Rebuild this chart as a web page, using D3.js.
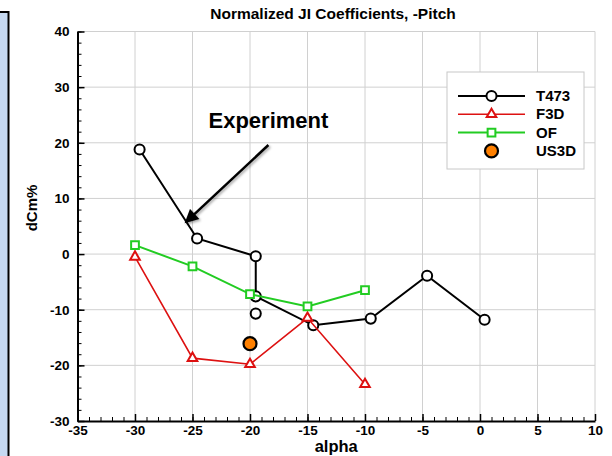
<!DOCTYPE html>
<html lang="en">
<head>
    <meta charset="UTF-8">
    <title>Normalized JI Coefficients, -Pitch</title>
    <script src="https://d3js.org/d3.v7.min.js"></script>
    <style>
        body { margin: 0; background: #fff; }
        text { font-family: "Liberation Sans", Arial, Helvetica, sans-serif; }
    </style>
</head>
<body>
    <svg id="chart" width="612" height="456"></svg>

    <script>
        // Values
        const xTicks = [-35, -30, -25, -20, -15, -10, -5, 0, 5, 10];
        const yTicks = [-30, -20, -10, 0, 10, 20, 30, 40];

        const t473Alpha = [-29.6, -24.6, -19.5, -19.5, -14.5, -9.5, -4.6, 0.4];
        const t473Cm = [18.8, 2.8, -0.4, -7.6, -12.8, -11.6, -3.9, -11.8];
        // extra T473 point drawn without a connecting line
        const t473ExtraAlpha = [-19.5];
        const t473ExtraCm = [-10.7];

        const f3dAlpha = [-30, -25, -20, -15, -10];
        const f3dCm = [-0.5, -18.7, -19.8, -11.5, -23.4];

        const ofAlpha = [-30, -25, -20, -15, -10];
        const ofCm = [1.6, -2.2, -7.2, -9.4, -6.5];

        const us3dAlpha = [-20];
        const us3dCm = [-16.1];

        const legendNames = ["T473", "F3D", "OF", "US3D"];

        // annotation: text position and arrow start/end in data units
        const noteText = "Experiment";
        const notePos = [-18.4, 22.7];
        const arrowFrom = [-18.4, 19.6];
        const arrowTo = [-25.6, 5.7];

        const height = 456;
        const svg = d3.select("#chart");

        const x = d3.scaleLinear().domain([-35, 10]).range([77.5, 595]);
        const y = d3.scaleLinear().domain([-30, 40]).range([421, 31.5]);

        const zip = (a, b) => a.map((v, i) => ({ x: v, y: b[i] }));

        // left side panel
        svg.append("rect")
            .attr("x", -4).attr("y", 12)
            .attr("width", 12.5).attr("height", height)
            .attr("fill", "#c6d9f1")
            .attr("stroke", "#000").attr("stroke-width", 2);

        // defs: arrow head + shadow
        const defs = svg.append("defs");
        defs.append("filter").attr("id", "shadow")
            .attr("x", "-20%").attr("y", "-20%").attr("width", "150%").attr("height", "150%")
            .append("feDropShadow")
            .attr("dx", 1.5).attr("dy", 1.5).attr("stdDeviation", 1.2)
            .attr("flood-color", "#000").attr("flood-opacity", 0.35);
        defs.append("marker").attr("id", "head")
            .attr("viewBox", "0 0 10 10").attr("refX", 9).attr("refY", 5)
            .attr("markerWidth", 6).attr("markerHeight", 5.5)
            .attr("orient", "auto")
            .append("path").attr("d", "M0,0 L10,5 L0,10 z").attr("fill", "#000");

        // grid
        const grid = svg.append("g").attr("stroke", "#d0d0d0").attr("stroke-width", 1);
        grid.selectAll(".vx").data(xTicks.slice(1)).enter().append("line")
            .attr("x1", d => x(d)).attr("x2", d => x(d))
            .attr("y1", y(-30)).attr("y2", y(40));
        grid.selectAll(".hy").data(yTicks.slice(1)).enter().append("line")
            .attr("x1", x(-35)).attr("x2", x(10))
            .attr("y1", d => y(d)).attr("y2", d => y(d));

        // axes (ticks pointing inward), plain hyphen minus in labels
        const fmt = d => String(d);
        const fontAxis = g => g.selectAll("text")
            .attr("font-size", 13.5).attr("font-weight", "bold").attr("fill", "#000")
            .attr("font-family", "'Liberation Sans', Arial, sans-serif");

        svg.append("g").attr("transform", `translate(0,${y(-30)})`)
            .call(d3.axisBottom(x).tickValues(d3.range(-35, 10.1, 1)).tickSizeInner(-4).tickSizeOuter(0).tickFormat(""))
            .call(g => g.select(".domain").remove())
            .call(g => g.selectAll("line").attr("stroke", "#000"));
        svg.append("g").attr("transform", `translate(0,${y(-30)})`)
            .call(d3.axisBottom(x).tickValues(xTicks).tickFormat(fmt).tickSizeInner(-7).tickSizeOuter(0).tickPadding(4))
            .call(g => g.select(".domain").attr("stroke-width", 2))
            .call(g => g.selectAll(".tick line").attr("stroke-width", 1.5))
            .call(fontAxis);

        svg.append("g").attr("transform", `translate(${x(-35)},0)`)
            .call(d3.axisLeft(y).tickValues(d3.range(-30, 40.1, 2)).tickSizeInner(-4).tickSizeOuter(0).tickFormat(""))
            .call(g => g.select(".domain").remove())
            .call(g => g.selectAll("line").attr("stroke", "#000"));
        svg.append("g").attr("transform", `translate(${x(-35)},0)`)
            .call(d3.axisLeft(y).tickValues(yTicks).tickFormat(fmt).tickSizeInner(-7).tickSizeOuter(0).tickPadding(8))
            .call(g => g.select(".domain").attr("stroke-width", 2))
            .call(g => g.selectAll(".tick line").attr("stroke-width", 1.5))
            .call(fontAxis);

        // titles
        svg.append("text")
            .attr("x", 333).attr("y", 19)
            .attr("text-anchor", "middle")
            .attr("font-size", 15.5).attr("font-weight", "bold")
            .text("Normalized JI Coefficients, -Pitch");

        svg.append("text")
            .attr("x", (x(-35) + x(10)) / 2).attr("y", 452)
            .attr("text-anchor", "middle")
            .attr("font-size", 16.5).attr("font-weight", "bold")
            .text("alpha");

        svg.append("text")
            .attr("transform", "translate(37,208) rotate(-90)")
            .attr("text-anchor", "middle")
            .attr("font-size", 15).attr("font-weight", "bold")
            .text("dCm%");

        // series
        const line = d3.line().x(d => x(d.x)).y(d => y(d.y));
        const series = [
            { name: "T473", data: zip(t473Alpha, t473Cm), color: "#000", width: 2, marker: "circle" },
            { name: "F3D", data: zip(f3dAlpha, f3dCm), color: "#dd1111", width: 1.6, marker: "triangle" },
            { name: "OF", data: zip(ofAlpha, ofCm), color: "#22cc22", width: 2, marker: "square" }
        ];

        const symbolFor = m => m === "circle" ? d3.symbol(d3.symbolCircle, 80)
            : m === "triangle" ? d3.symbol(d3.symbolTriangle, 40)
            : d3.symbol(d3.symbolSquare, 60);

        series.forEach((s, k) => {
            svg.append("path").datum(s.data)
                .attr("d", line).attr("fill", "none")
                .attr("stroke", s.color).attr("stroke-width", s.width);
            if (k === 0) {
                // T473 unconnected point
                svg.selectAll(null).data(zip(t473ExtraAlpha, t473ExtraCm)).enter().append("path")
                    .attr("d", symbolFor("circle")())
                    .attr("transform", d => `translate(${x(d.x)},${y(d.y)})`)
                    .attr("fill", "#fff").attr("stroke", "#000").attr("stroke-width", 2);
            }
            svg.selectAll(null).data(s.data).enter().append("path")
                .attr("d", symbolFor(s.marker)())
                .attr("transform", d => `translate(${x(d.x)},${y(d.y)})`)
                .attr("fill", "#fff").attr("stroke", s.color).attr("stroke-width", 2);
        });

        svg.selectAll(".us3d").data(zip(us3dAlpha, us3dCm)).enter().append("circle")
            .attr("cx", d => x(d.x)).attr("cy", d => y(d.y)).attr("r", 6.5)
            .attr("fill", "#ff8000").attr("stroke", "#000").attr("stroke-width", 2.2);

        // legend
        const lg = svg.append("g");
        lg.append("rect")
            .attr("x", 447).attr("y", 72).attr("width", 137).attr("height", 97)
            .attr("fill", "#fff").attr("stroke", "#c8c8c8").attr("stroke-width", 1);
        const rowY = i => 96 + i * 18.3;
        legendNames.forEach((name, i) => {
            const s = series.find(d => d.name === name);
            if (s) {
                lg.append("line").attr("x1", 458).attr("x2", 525)
                    .attr("y1", rowY(i)).attr("y2", rowY(i))
                    .attr("stroke", s.color).attr("stroke-width", s.width);
                lg.append("path").attr("d", symbolFor(s.marker)())
                    .attr("transform", `translate(491.5,${rowY(i)})`)
                    .attr("fill", "#fff").attr("stroke", s.color).attr("stroke-width", 2);
            } else {
                lg.append("circle").attr("cx", 491.5).attr("cy", rowY(i)).attr("r", 6.5)
                    .attr("fill", "#ff8000").attr("stroke", "#000").attr("stroke-width", 2.2);
            }
            lg.append("text").attr("x", 536).attr("y", rowY(i) + 5)
                .attr("font-size", 15).attr("font-weight", "bold")
                .text(name);
        });

        // annotation
        svg.append("text")
            .attr("x", x(notePos[0])).attr("y", y(notePos[1]))
            .attr("text-anchor", "middle")
            .attr("font-family", "Lato, 'Open Sans', sans-serif")
            .attr("font-size", 22).attr("font-weight", "bold")
            .text(noteText);
        svg.append("line")
            .attr("x1", x(arrowFrom[0])).attr("y1", y(arrowFrom[1]))
            .attr("x2", x(arrowTo[0])).attr("y2", y(arrowTo[1]))
            .attr("stroke", "#000").attr("stroke-width", 2.5)
            .attr("marker-end", "url(#head)")
            .attr("filter", "url(#shadow)");
    </script>
</body>
</html>
